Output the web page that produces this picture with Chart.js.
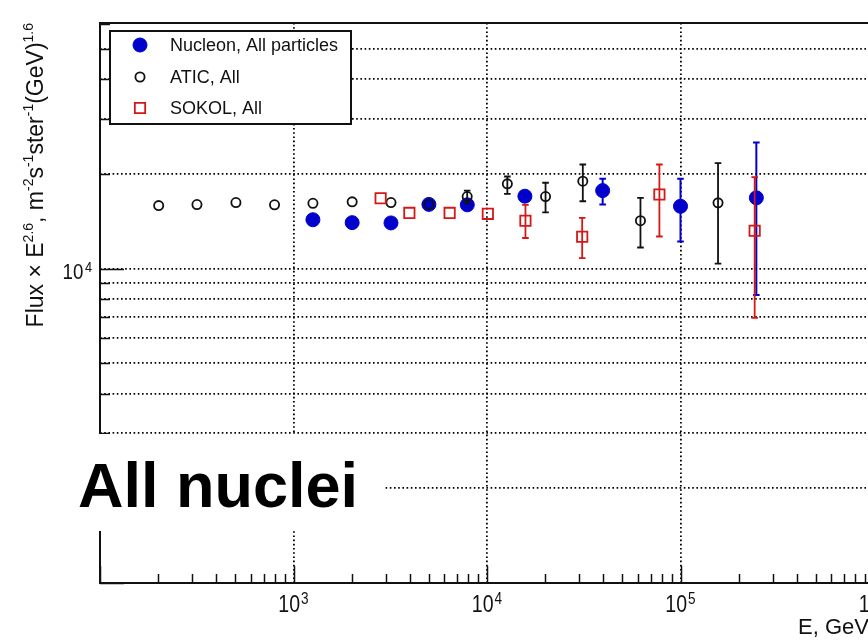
<!DOCTYPE html>
<html>
<head>
<meta charset="utf-8">
<script src="https://cdn.jsdelivr.net/npm/chart.js@4.4.0/dist/chart.umd.min.js"></script>
<style>
  html, body { margin: 0; padding: 0; background: #fff; overflow: hidden; }
  #wrap { width: 868px; height: 643px; overflow: hidden; }
  canvas { display: block; }
</style>
</head>
<body>
<div id="wrap"><canvas id="fluxChart" width="900" height="643"></canvas></div>
<script>
// Nucleon, all particles (E in GeV, flux x E^2.6)
const nucleonE  = [1260, 2010, 3190, 5010, 7910, 15700, 39600, 100000, 246600];
const nucleonF  = [14300, 14000, 13970, 16000, 15950, 16990, 17700, 15780, 16790];
const nucleonLo = [null, null, null, null, null, null, 15980, 12200, 8240];
const nucleonHi = [null, null, null, null, null, null, 19300, 19300, 25160];

// ATIC, all
const aticE  = [201, 317, 504, 798, 1260, 2010, 3190, 5010, 7900, 12740, 20070, 31270, 62100, 156300];
const aticF  = [15860, 15980, 16220, 15950, 16130, 16300, 16220, 16010, 16950, 18600, 16950, 18960, 14200, 16180];
const aticLo = [null, null, null, null, null, null, null, null, 16090, 17290, 15100, 16370, 11670, 10370];
const aticHi = [null, null, null, null, null, null, null, null, 17700, 19630, 18750, 21430, 16790, 21650];

// SOKOL, all
const sokolE  = [2820, 3970, 6410, 10100, 15800, 31040, 77800, 241700];
const sokolF  = [16740, 15030, 15030, 14930, 14200, 12620, 17200, 13190];
const sokolLo = [null, null, null, null, 12510, 10790, 12650, 6970];
const sokolHi = [null, null, null, null, 15950, 14490, 21430, 19530];

// axes
const xRange = [100, 1e6];
const yRange = [1000, 60400];
const xLabelExp = [3, 4, 5, 6];
const yLabelExp = [4];
const xGridAt = [1e3, 1e4, 1e5];
const yGridAt = [2000, 3000, 4000, 5000, 6000, 7000, 8000, 9000, 10000, 20000, 30000, 40000, 50000];
const xTitle = "E, GeV";
const yTitle = [["Flux \u00d7 E", 0], ["2.6", 1], [", m", 0], ["-2", 1], ["s", 0], ["-1", 1], ["ster", 0], ["-1", 1], ["(GeV)", 0], ["1.6", 1]];
const panelLabel = "All nuclei";

const FONT = '"Liberation Sans", Arial, Helvetica, sans-serif';
const BLUE = "#0000cc";
const RED = "#d41818";

function pts(es, fs, lo, hi) {
  return es.map((e, i) => ({ x: e, y: fs[i], lo: lo[i], hi: hi[i] }));
}

function logTicks(min, max) {
  const out = [];
  for (let n = Math.floor(Math.log10(min)); n <= Math.ceil(Math.log10(max)); n++) {
    for (let k = 1; k <= 9; k++) {
      const v = k * Math.pow(10, n);
      if (v >= min && v <= max) out.push({ v: v, major: k === 1 });
    }
  }
  return out;
}

// "10^n" label, slightly narrow like the ROOT font
function drawPow(ctx, exp, x, y, align, size, gap) {
  const sq = 0.85;
  ctx.save();
  ctx.font = size + "px " + FONT;
  const wb = ctx.measureText("10").width * sq + gap;
  ctx.font = Math.round(size * 0.68) + "px " + FONT;
  const we = ctx.measureText(String(exp)).width * sq;
  const x0 = align === "center" ? x - (wb + we) / 2 : x - (wb + we);
  ctx.textAlign = "left";
  ctx.textBaseline = "alphabetic";
  ctx.translate(x0, y);
  ctx.scale(sq, 1);
  ctx.font = size + "px " + FONT;
  ctx.fillText("10", 0, 0);
  ctx.font = Math.round(size * 0.68) + "px " + FONT;
  ctx.fillText(String(exp), wb / sq, -Math.round(size * 0.33));
  ctx.restore();
}

function drawMarker(ctx, ds, x, y) {
  ctx.save();
  ctx.lineWidth = ds.pointBorderWidth;
  ctx.strokeStyle = ds.borderColor;
  ctx.fillStyle = ds.backgroundColor;
  ctx.beginPath();
  if (ds.pointStyle === "rect") {
    const h = Math.SQRT1_2 * ds.pointRadius;
    ctx.rect(x - h, y - h, 2 * h, 2 * h);
  } else {
    ctx.arc(x, y, ds.pointRadius, 0, Math.PI * 2);
  }
  ctx.fill();
  ctx.stroke();
  ctx.restore();
}

const errorBars = {
  id: "errorBars",
  beforeDatasetDraw(chart, args) {
    const ds = chart.data.datasets[args.index];
    const { ctx, scales: { x, y } } = chart;
    ctx.save();
    ctx.strokeStyle = ds.borderColor;
    ctx.lineWidth = ds.errWidth;
    ds.data.forEach(p => {
      if (p.lo == null) return;
      const px = x.getPixelForValue(p.x);
      const yl = y.getPixelForValue(p.lo);
      const yh = y.getPixelForValue(p.hi);
      ctx.beginPath();
      ctx.moveTo(px, yl); ctx.lineTo(px, yh);
      ctx.moveTo(px - 3.3, yl); ctx.lineTo(px + 3.3, yl);
      ctx.moveTo(px - 3.3, yh); ctx.lineTo(px + 3.3, yh);
      ctx.stroke();
    });
    ctx.restore();
  }
};

const rootFrame = {
  id: "rootFrame",
  afterDraw(chart) {
    const { ctx, chartArea: a, scales: { x, y } } = chart;
    ctx.save();
    ctx.fillStyle = "#111";
    ctx.strokeStyle = "#111";

    // ticks inside the frame
    ctx.lineWidth = 1.5;
    ctx.beginPath();
    logTicks(xRange[0], xRange[1]).forEach(t => {
      const px = Math.round(x.getPixelForValue(t.v)) + 0.5;
      ctx.moveTo(px, a.bottom);
      ctx.lineTo(px, a.bottom - (t.major ? 17 : 9));
    });
    logTicks(yRange[0], yRange[1]).forEach(t => {
      const py = Math.round(y.getPixelForValue(t.v)) + 0.5;
      ctx.moveTo(a.left, py);
      ctx.lineTo(a.left + (t.major ? 24 : 10), py);
    });
    ctx.stroke();

    // frame
    ctx.lineWidth = 2;
    ctx.strokeRect(a.left, a.top, a.right - a.left, a.bottom - a.top);

    // tick labels
    xLabelExp.forEach(n => drawPow(ctx, n, x.getPixelForValue(Math.pow(10, n)), 612, "center", 23, 1));
    yLabelExp.forEach(n => drawPow(ctx, n, 92, y.getPixelForValue(Math.pow(10, n)) + 10, "right", 22, 1.5));

    // x title
    ctx.font = "22px " + FONT;
    ctx.textAlign = "left";
    ctx.textBaseline = "alphabetic";
    ctx.fillText(xTitle, 798, 634);

    // y title (rotated, ends at top of frame)
    ctx.save();
    ctx.translate(43, a.top);
    ctx.rotate(-Math.PI / 2);
    let total = 0;
    yTitle.forEach(([t, sup]) => {
      ctx.font = (sup ? "14px " : "23px ") + FONT;
      total += ctx.measureText(t).width;
    });
    let cx = -total;
    yTitle.forEach(([t, sup]) => {
      ctx.font = (sup ? "14px " : "23px ") + FONT;
      ctx.fillText(t, cx, sup ? -10 : 0);
      cx += ctx.measureText(t).width;
    });
    ctx.restore();

    // legend
    ctx.fillStyle = "#fff";
    ctx.fillRect(110, 31, 241, 93);
    ctx.lineWidth = 2;
    ctx.strokeRect(110, 31, 241, 93);
    const rows = [45, 77, 108];
    chart.data.datasets.forEach((ds, i) => {
      drawMarker(ctx, ds, 140, rows[i]);
      ctx.fillStyle = "#111";
      ctx.font = "18px " + FONT;
      ctx.textBaseline = "middle";
      ctx.fillText(ds.label, 170, rows[i] + 1);
    });

    // panel label on white box
    ctx.fillStyle = "#fff";
    ctx.fillRect(70, 434, 315, 97);
    ctx.fillStyle = "#000";
    ctx.textBaseline = "alphabetic";
    ctx.font = "bold 63px " + FONT;
    ctx.fillText(panelLabel, 78, 507);
    ctx.restore();
  }
};

const ctx = document.getElementById("fluxChart").getContext("2d");
const chart = new Chart(ctx, {
  type: "scatter",
  data: {
    datasets: [
      {
        label: "Nucleon, All particles",
        data: pts(nucleonE, nucleonF, nucleonLo, nucleonHi),
        pointStyle: "circle", pointRadius: 7, pointBorderWidth: 1,
        backgroundColor: BLUE, borderColor: BLUE, errWidth: 2, order: 3
      },
      {
        label: "ATIC, All",
        data: pts(aticE, aticF, aticLo, aticHi),
        pointStyle: "circle", pointRadius: 4.6, pointBorderWidth: 1.8,
        backgroundColor: "rgba(0,0,0,0)", borderColor: "#111", errWidth: 1.8, order: 2
      },
      {
        label: "SOKOL, All",
        data: pts(sokolE, sokolF, sokolLo, sokolHi),
        pointStyle: "rect", pointRadius: 7.3, pointBorderWidth: 1.8,
        backgroundColor: "rgba(255,255,255,0)", borderColor: RED, errWidth: 1.8, order: 1
      }
    ]
  },
  options: {
    responsive: false,
    animation: false,
    events: [],
    layout: { padding: { left: 100, top: 23, right: 26, bottom: 60 } },
    plugins: { legend: { display: false }, tooltip: { enabled: false } },
    scales: {
      x: {
        type: "logarithmic", min: xRange[0], max: xRange[1],
        afterBuildTicks: s => { s.ticks = xGridAt.map(v => ({ value: v })); },
        ticks: { display: false },
        grid: { drawTicks: false, color: "#000", lineWidth: 1.8 },
        border: { display: false, dash: [1.6, 2.6] }
      },
      y: {
        type: "logarithmic", min: yRange[0], max: yRange[1],
        afterBuildTicks: s => { s.ticks = yGridAt.map(v => ({ value: v })); },
        ticks: { display: false },
        grid: { drawTicks: false, color: "#000", lineWidth: 1.8 },
        border: { display: false, dash: [1.6, 2.6] }
      }
    }
  },
  plugins: [errorBars, rootFrame]
});
</script>
</body>
</html>
